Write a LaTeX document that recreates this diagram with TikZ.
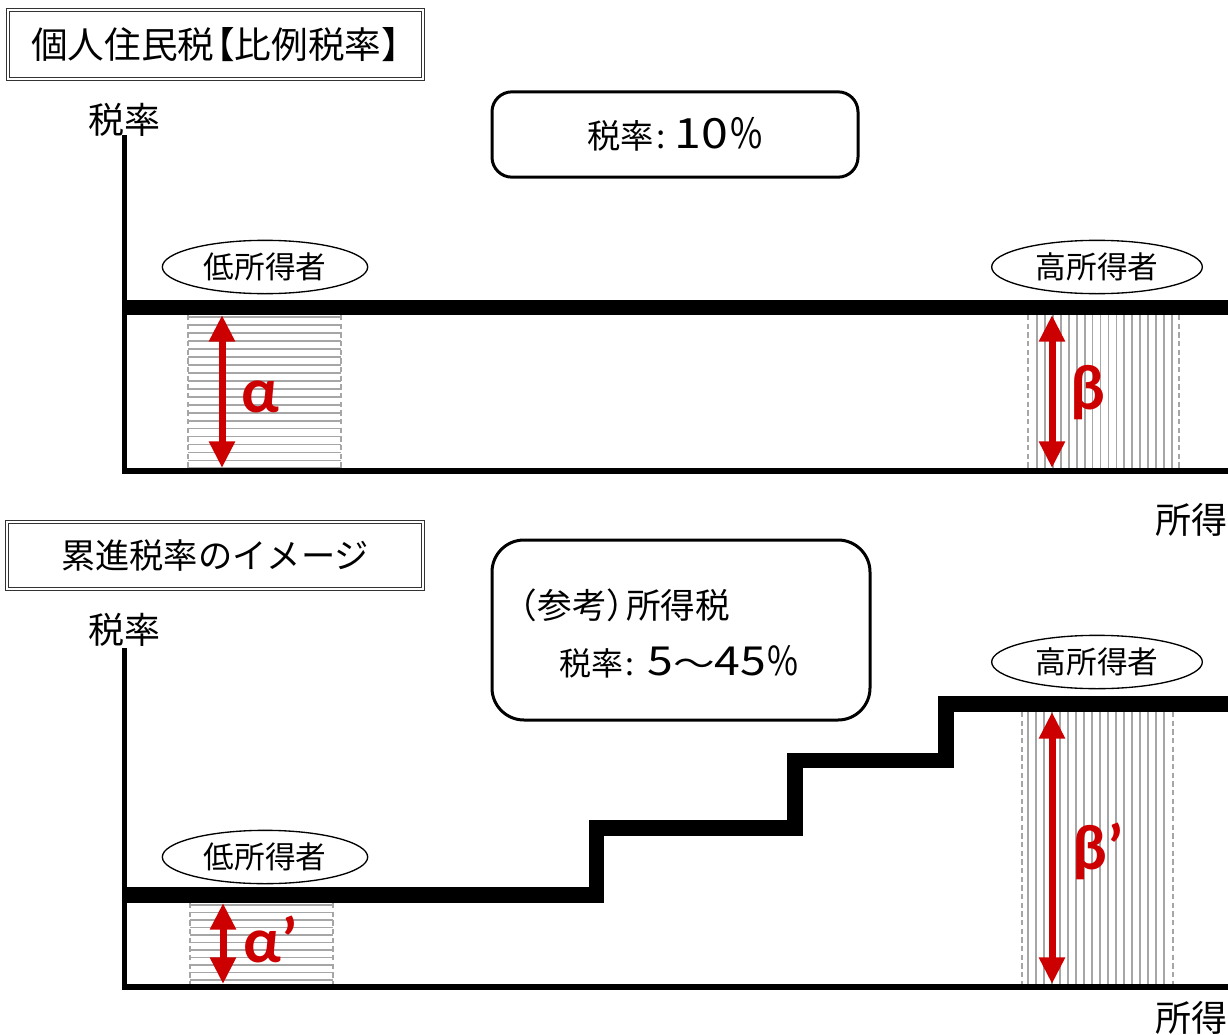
\documentclass[tikz,border=0pt]{standalone}
\usepackage{graphicx}
\usepackage{fontspec}
\setmainfont{Noto Sans CJK JP}
\newfontfamily\grk{Carlito}
\usetikzlibrary{arrows.meta,shapes.geometric}
\definecolor{tred}{RGB}{204,0,0}
\definecolor{hatchgray}{RGB}{166,166,166}
\newcommand{\wdg}[1]{\scalebox{1.45}[1.25]{#1}}
\newcommand{\wpc}{\scalebox{1.05}[1.25]{\%}}
\newcommand{\wtl}{\scalebox{1.3}[1]{～}}
\begin{document}
\begin{tikzpicture}[x=0.75pt,y=-0.75pt,
  titlebox/.style={draw=black!80,double=white,double distance=1.6pt,line width=0.7pt,inner sep=0pt},
  roundbox/.style={draw=black,line width=2.25pt,rounded corners=15pt,inner sep=0pt},
  oval/.style={ellipse,draw=black,line width=1pt,inner sep=0pt,font=\fontsize{23pt}{27pt}\selectfont},
  axisline/.style={line width=3.75pt},
  baseline/.style={line width=4.5pt},
  rateline/.style={line width=11.6pt,miter limit=10},
  hatchline/.style={draw=hatchgray,line width=1.3pt},
  hatchdash/.style={draw=hatchgray,line width=1.3pt,dash pattern=on 4pt off 2.5pt},
  darr/.style={draw=tred,line width=5.25pt,{Triangle[width=18.5pt,length=20pt]}-{Triangle[width=18.5pt,length=20pt]}},
  grklabel/.style={text=tred,inner sep=0pt,font=\grk\bfseries\fontsize{48pt}{56pt}\selectfont},
  axlabel/.style={inner sep=0pt,font=\fontsize{27pt}{32pt}\selectfont},
  boxtext/.style={inner sep=0pt,font=\fontsize{24pt}{28pt}\selectfont}
]
\useasboundingbox (0,0) rectangle (1228,1035);

% ===== top panel =====
\node[titlebox,minimum width=311pt,minimum height=52pt,font=\fontsize{27.5pt}{32pt}\selectfont] (t1) at (215.5,44.5) {個人住民税\kern-0.45em【比例税率】\kern-0.5em};
\node[axlabel] (y1) at (124,120) {税率};
\node[roundbox,minimum width=274.5pt,minimum height=64pt,font=\fontsize{25pt}{30pt}\selectfont] (b1) at (675,134.5) {税率\kern1.5pt:\kern7pt\wdg{10}\kern1.5pt\wpc};
\node[oval,minimum width=154pt,minimum height=40pt] (e1) at (265,267) {低所得者};
\node[oval,minimum width=158pt,minimum height=40pt] (e2) at (1097,267) {高所得者};
\node[axlabel,anchor=east] (x1) at (1228,520) {所得};

% hatch alpha
\foreach \k in {0,...,19} \draw[hatchline] (188,317.3+7.95*\k) -- (341,317.3+7.95*\k);
\draw[hatchdash] (188,315) -- (188,468);
\draw[hatchdash] (341,315) -- (341,468);
% hatch beta
\foreach \k in {0,...,17} \draw[hatchline] (1037+7.94*\k,315) -- (1037+7.94*\k,468);
\draw[hatchdash] (1028,315) -- (1028,468);
\draw[hatchdash] (1179,315) -- (1179,468);

% axes
\coordinate (o1) at (124.5,474);
\coordinate (top1) at (124.5,135);
\coordinate (xend1) at (1228,471);
\draw[axisline] (top1) -- (o1);
\draw[baseline] (122,471) -- (xend1);
\coordinate (r1s) at (122,307.5);
\coordinate (r1e) at (1228,307.5);
\draw[rateline] (r1s) -- (r1e);

% arrows
\coordinate (a1t) at (222,315);
\coordinate (a1b) at (222,468);
\draw[darr] (a1t) -- (a1b);
\coordinate (b1t) at (1052,315);
\coordinate (b1b) at (1052,468);
\draw[darr] (b1t) -- (b1b);
\node[grklabel] (la) at (260,397) {α};
\node[grklabel] (lb) at (1088,393) {β};

% ===== bottom panel =====
\node[titlebox,minimum width=312pt,minimum height=50pt,font=\fontsize{25.7pt}{30pt}\selectfont] (t2) at (215,555.5) {累進税率のイメージ};
\node[axlabel] (y2) at (124,630) {税率};
\node[roundbox,minimum width=283.5pt,minimum height=135pt,rounded corners=24pt] (b2) at (681,630) {};
\node[boxtext,anchor=west,font=\fontsize{26pt}{30pt}\selectfont] (b2a) at (520,605) {\kern-0.5em（参考）\kern-0.45em所得税};
\node[boxtext,anchor=west] (b2b) at (559,662) {税率\kern1.5pt:\kern10pt\wdg{5}\wtl\wdg{45}\kern1pt\wpc};
\node[oval,minimum width=158pt,minimum height=40pt] (e4) at (1097,662) {高所得者};
\node[oval,minimum width=154pt,minimum height=40pt] (e3) at (265,857) {低所得者};
\node[axlabel,anchor=east] (x2) at (1228,1018) {所得};

% hatch alpha'
\foreach \k in {0,...,10} \draw[hatchline] (190,905+7.5*\k) -- (333,905+7.5*\k);
\draw[hatchdash] (190,903) -- (190,984);
\draw[hatchdash] (333,903) -- (333,984);
% hatch beta'
\foreach \k in {0,...,17} \draw[hatchline] (1028+8.0*\k,712) -- (1028+8.0*\k,984);
\draw[hatchdash] (1022,712) -- (1022,984);
\draw[hatchdash] (1173,712) -- (1173,984);

% axes
\coordinate (o2) at (124.5,990);
\coordinate (top2) at (124.5,648);
\coordinate (xend2) at (1228,987);
\draw[axisline] (top2) -- (o2);
\draw[baseline] (122,987) -- (xend2);
\coordinate (s0) at (122,895);
\coordinate (s1) at (596.5,895);
\coordinate (s2) at (596.5,828);
\coordinate (s3) at (795,828);
\coordinate (s4) at (795,760.5);
\coordinate (s5) at (946,760.5);
\coordinate (s6) at (946,704);
\coordinate (s7) at (1228,704);
\draw[rateline] (s0) -- (s1) -- (s2) -- (s3) -- (s4) -- (s5) -- (s6) -- (s7);

% arrows
\coordinate (a2t) at (223,903);
\coordinate (a2b) at (223,984);
\draw[darr] (a2t) -- (a2b);
\coordinate (b2t) at (1052,712);
\coordinate (b2b) at (1052,984);
\draw[darr] (b2t) -- (b2b);
\node[grklabel,anchor=base] (la2) at (271,962) {α’};
\node[grklabel,anchor=base] (lb2) at (1098,869) {β’};
\end{tikzpicture}
\end{document}
